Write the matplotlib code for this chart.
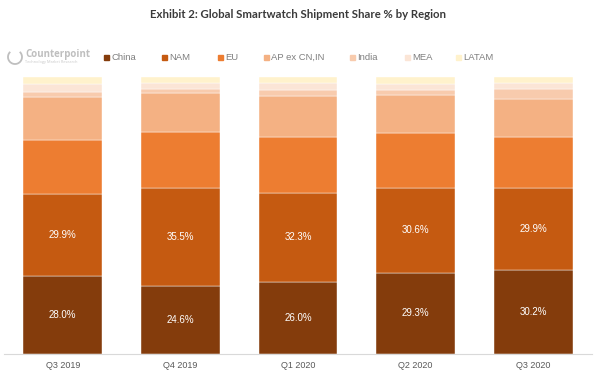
import matplotlib
matplotlib.use("Agg")
import matplotlib.pyplot as plt
from matplotlib.patches import Arc

quarters = ["Q3 2019", "Q4 2019", "Q1 2020", "Q2 2020", "Q3 2020"]
regions = ["China", "NAM", "EU", "AP ex CN,IN", "India", "MEA", "LATAM"]
china = [28.0, 24.6, 26.0, 29.3, 30.2]
nam = [29.9, 35.5, 32.3, 30.6, 29.9]
eu = [19.2, 20.1, 20.1, 19.9, 18.3]
ap = [15.6, 14.1, 14.7, 13.7, 13.5]
india = [1.8, 1.3, 2.2, 1.9, 3.6]
mea = [3.0, 2.3, 2.4, 2.2, 2.4]
latam = [2.4, 2.2, 2.4, 2.4, 2.2]
series = [china, nam, eu, ap, india, mea, latam]
colors = ["#843C0C", "#C55A11", "#ED7D31", "#F4B183", "#F8CBAD", "#FBE5D6", "#FFF2CC"]
labelled = {0: china, 1: nam}

fig = plt.figure(figsize=(5.96, 3.72), dpi=100)
ax = fig.add_axes([4/596, 18/372, 588/596, 277/372])
x = list(range(len(quarters)))
bottom = [0.0]*len(quarters)
for i, (name, vals) in enumerate(zip(regions, series)):
    ax.bar(x, vals, bottom=bottom, width=0.67, color=colors[i], label=name,
           edgecolor="white", linewidth=0.3)
    if i in labelled:
        for xi, b, v in zip(x, bottom, vals):
            ax.text(xi, b + v/2, f"{v:.1f}%", ha="center", va="center",
                    color="white", fontsize=7, family="Liberation Sans")
    bottom = [b + v for b, v in zip(bottom, vals)]

ax.set_xlim(-0.5, 4.5)
ax.set_ylim(0, 100)
ax.set_yticks([])
ax.set_xticks(x)
ax.set_xticklabels(quarters, fontsize=6.5, color="#595959", family="Liberation Sans")
ax.tick_params(axis="x", length=0, pad=5)
for s in ["top", "right", "left"]:
    ax.spines[s].set_visible(False)
ax.spines["bottom"].set_color("#D9D9D9")
ax.spines["bottom"].set_linewidth(0.8)

fig.text(0.5, 1 - 15/372, "Exhibit 2: Global Smartwatch Shipment Share % by Region",
         ha="center", va="center", fontsize=8.2, fontweight="bold", color="#3A3A3A",
         family="Lato")

# legend
leg_x = [107, 164, 220, 266, 352, 407, 458]
ly = 1 - 57/372
for lx, name, c in zip(leg_x, regions, colors):
    fig.patches.append(plt.Rectangle((lx/596 - 2.5/596, ly - 2.5/372), 5/596, 5/372,
                                     transform=fig.transFigure, color=c, figure=fig))
    fig.text(lx/596 + 5/596, ly, name, ha="left", va="center", fontsize=6.8,
             color="#7F7F7F", family="Liberation Sans")

# logo
fig.patches.append(Arc((15/596, 1 - 57/372), 14/596, 14/372, theta1=120, theta2=420,
                       transform=fig.transFigure, color="#BFBFBF", lw=1.3, figure=fig))
fig.text(25/596, 1 - 54/372, "Counterpoint", ha="left", va="center", fontsize=7,
         fontweight="bold", color="#BFBFBF", family="Open Sans")
fig.text(25/596, 1 - 61.5/372, "Technology Market Research", ha="left", va="center",
         fontsize=2.8, color="#C8C8C8", family="Open Sans")

fig.savefig("out.png", dpi=100)
